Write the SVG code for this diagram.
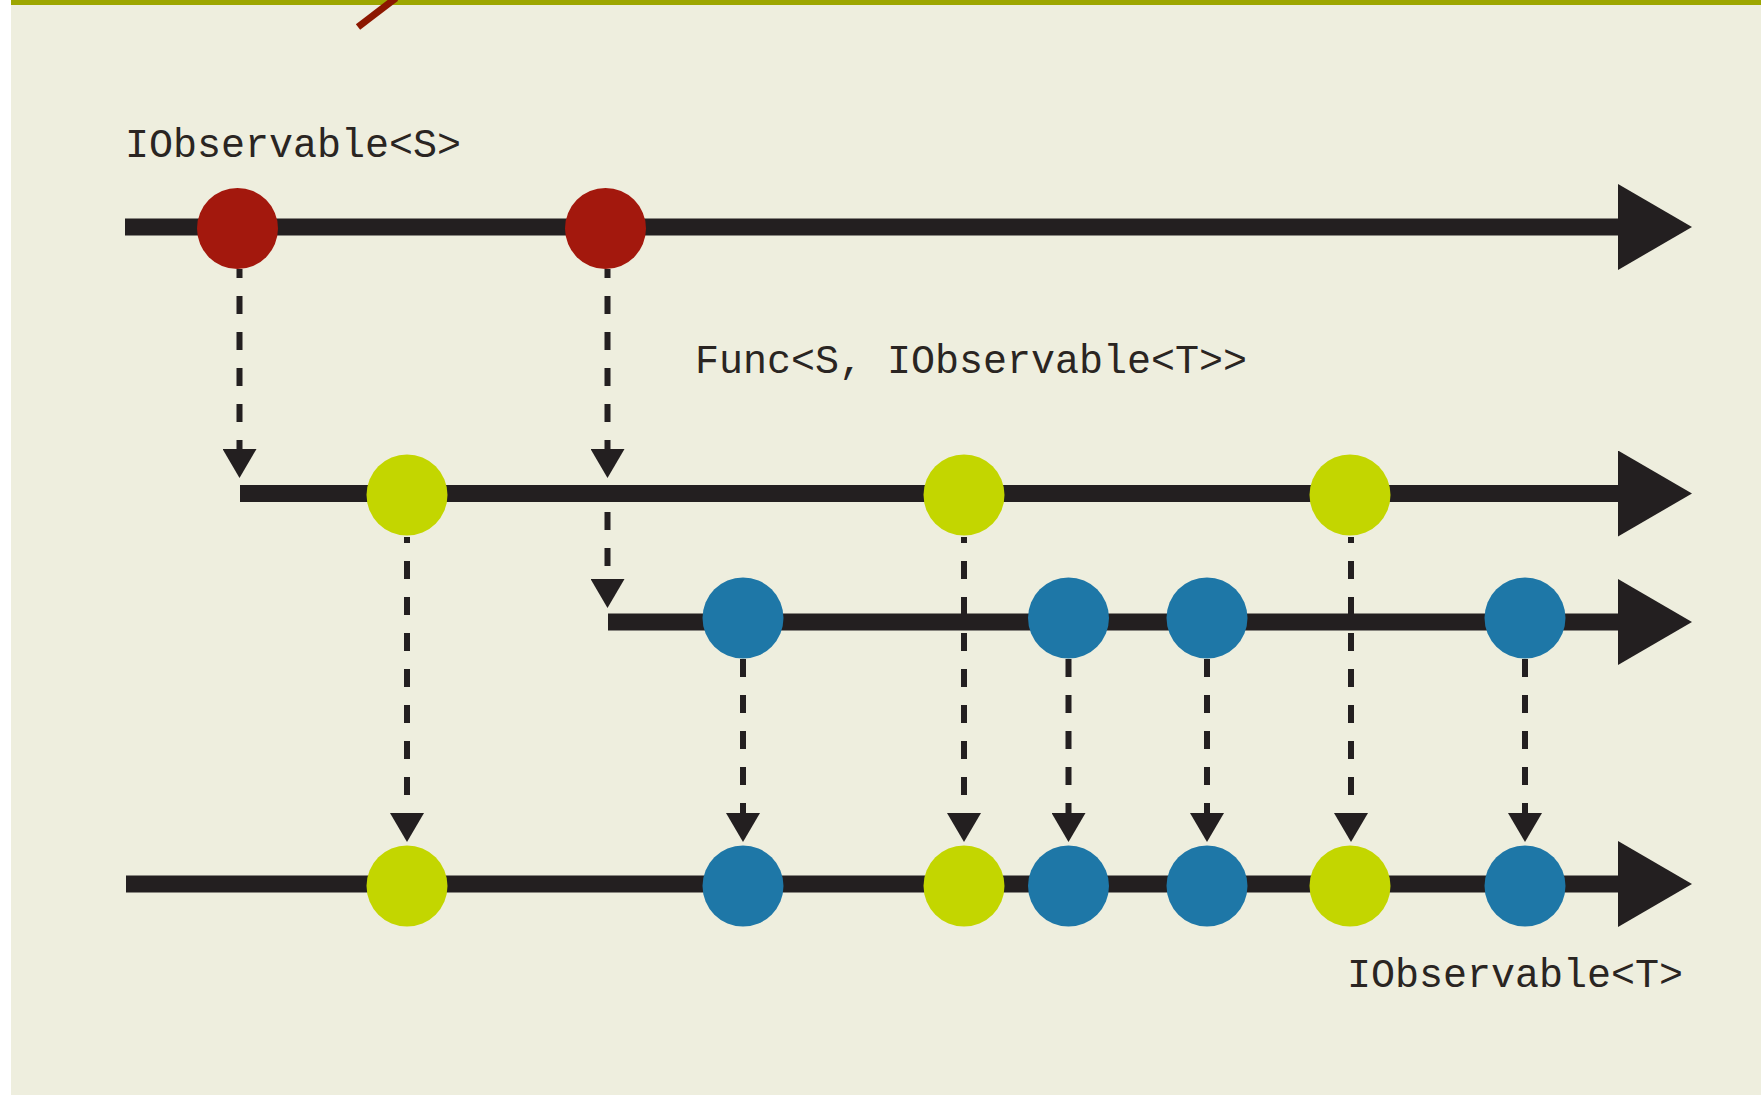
<svg xmlns="http://www.w3.org/2000/svg" width="1761" height="1095" viewBox="0 0 1761 1095">
  <style>
    .timeline { stroke: #231f20; stroke-width: 17; fill: none; marker-end: url(#bigArrow); }
    .link { stroke: #231f20; stroke-width: 6; fill: none; stroke-dasharray: 18 18; marker-end: url(#smallArrow); }
    .red { fill: #a3180d; }
    .green { fill: #c3d600; }
    .blue { fill: #1e77a7; }
    .label { font-family: "Courier New", "Liberation Mono", monospace; font-size: 40px; fill: #2a2522; }
  </style>
  <defs>
    <marker id="bigArrow" markerUnits="userSpaceOnUse" viewBox="0 0 74 86" markerWidth="74" markerHeight="86" refX="0" refY="43" orient="auto">
      <path d="M0,0 L74,43 L0,86 Z" fill="#231f20"/>
    </marker>
    <marker id="smallArrow" markerUnits="userSpaceOnUse" viewBox="0 0 29 34" markerWidth="29" markerHeight="34" refX="0" refY="17" orient="auto">
      <path d="M0,0 L29,17 L0,34 Z" fill="#231f20"/>
    </marker>
  </defs>

  <rect x="0" y="0" width="1761" height="1095" fill="#ffffff"/>
  <rect x="11" y="0" width="1750" height="1095" fill="#eeeede"/>
  <rect x="11" y="0" width="1750" height="5" fill="#9da600"/>
  <line x1="358" y1="27" x2="396" y2="-2" stroke="#8c1700" stroke-width="7"/>

  <g id="labels">
    <text class="label" x="125" y="157">IObservable&lt;S&gt;</text>
    <text class="label" x="695" y="373">Func&lt;S, IObservable&lt;T&gt;&gt;</text>
    <text class="label" x="1347" y="987">IObservable&lt;T&gt;</text>
  </g>

  <g id="connectors">
    <line class="timeline" x1="125" y1="227" x2="1618" y2="227"/>
    <line class="timeline" x1="240" y1="493.5" x2="1618" y2="493.5"/>
    <line class="timeline" x1="608" y1="622" x2="1618" y2="622"/>
    <line class="timeline" x1="126" y1="884" x2="1618" y2="884"/>

    <line class="link" x1="239.5" y1="269" x2="239.5" y2="449" stroke-dashoffset="9"/>
    <line class="link" x1="607.5" y1="269" x2="607.5" y2="449" stroke-dashoffset="9"/>
    <line class="link" x1="607.5" y1="512" x2="607.5" y2="579"/>

    <line class="link" x1="407" y1="537" x2="407" y2="813" stroke-dashoffset="12"/>
    <line class="link" x1="964" y1="537" x2="964" y2="813" stroke-dashoffset="12"/>
    <line class="link" x1="1351" y1="537" x2="1351" y2="813" stroke-dashoffset="12"/>

    <line class="link" x1="743" y1="659" x2="743" y2="813"/>
    <line class="link" x1="1068.5" y1="659" x2="1068.5" y2="813"/>
    <line class="link" x1="1207" y1="659" x2="1207" y2="813"/>
    <line class="link" x1="1525" y1="659" x2="1525" y2="813"/>
  </g>

  <g id="source-s1"><circle class="red" cx="237.5" cy="228.5" r="40.5"/></g>
  <g id="source-s2"><circle class="red" cx="605.5" cy="228.5" r="40.5"/></g>

  <g id="inner1-t1"><circle class="green" cx="407" cy="495" r="40.5"/></g>
  <g id="inner1-t2"><circle class="green" cx="964" cy="495" r="40.5"/></g>
  <g id="inner1-t3"><circle class="green" cx="1350" cy="495" r="40.5"/></g>

  <g id="inner2-t1"><circle class="blue" cx="743" cy="618" r="40.5"/></g>
  <g id="inner2-t2"><circle class="blue" cx="1068.5" cy="618" r="40.5"/></g>
  <g id="inner2-t3"><circle class="blue" cx="1207" cy="618" r="40.5"/></g>
  <g id="inner2-t4"><circle class="blue" cx="1525" cy="618" r="40.5"/></g>

  <g id="result-1"><circle class="green" cx="407" cy="886" r="40.5"/></g>
  <g id="result-2"><circle class="blue" cx="743" cy="886" r="40.5"/></g>
  <g id="result-3"><circle class="green" cx="964" cy="886" r="40.5"/></g>
  <g id="result-4"><circle class="blue" cx="1068.5" cy="886" r="40.5"/></g>
  <g id="result-5"><circle class="blue" cx="1207" cy="886" r="40.5"/></g>
  <g id="result-6"><circle class="green" cx="1350" cy="886" r="40.5"/></g>
  <g id="result-7"><circle class="blue" cx="1525" cy="886" r="40.5"/></g>
</svg>
